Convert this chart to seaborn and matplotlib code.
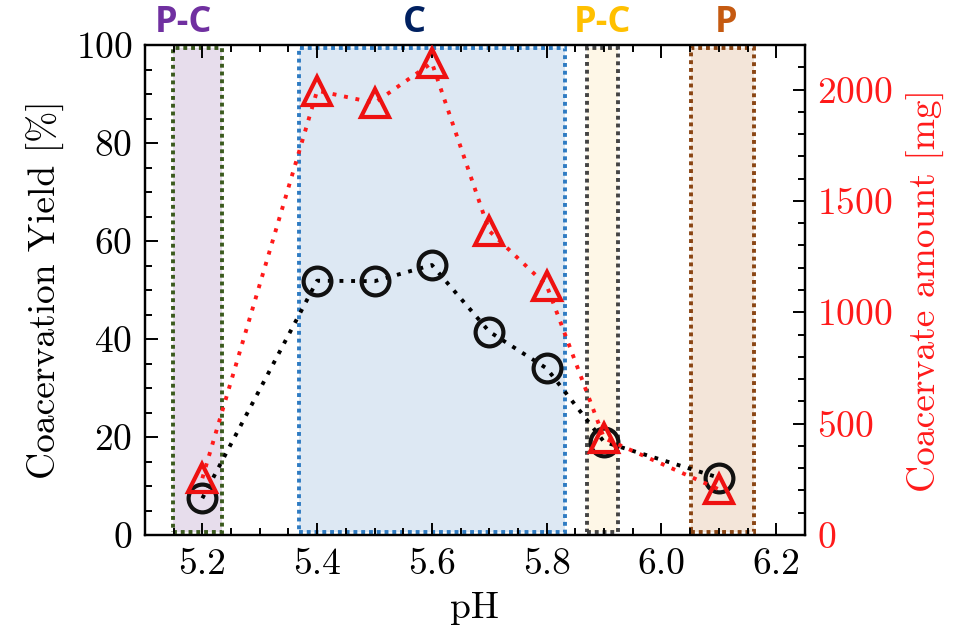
"""
pH scan: coacervation yield and coacervate amount
"""

import numpy as np
import pandas as pd
import matplotlib
matplotlib.use("Agg")
import matplotlib.pyplot as plt
from matplotlib.ticker import MultipleLocator
import seaborn as sns

# data
ph = [5.2, 5.4, 5.5, 5.6, 5.7, 5.8, 5.9, 6.1]
yield_pct = [7.5, 51.9, 51.8, 55.1, 41.5, 34.0, 19.0, 11.7]
amount_mg = [255, 1995, 1940, 2120, 1365, 1120, 435, 205]

# phase regions (pH bounds) and their labels
region_bounds = [(5.148, 5.234), (5.369, 5.832), (5.871, 5.924), (6.051, 6.161)]
region_labels = ["P-C", "C", "P-C", "P"]
region_fill = ["#e7ddec", "#dde8f3", "#fef7e7", "#f3e5d9"]
region_edge = ["#3b5a1e", "#2e7bc2", "#444444", "#8a4513"]
label_colors = ["#7030a0", "#002060", "#ffc000", "#c55a11"]

sns.set_theme(style="ticks")
plt.rcParams["font.family"] = ["cmr10", "DejaVu Serif"]
plt.rcParams["mathtext.fontset"] = "cm"
plt.rcParams["axes.formatter.use_mathtext"] = True
plt.rcParams["axes.unicode_minus"] = False
# seaborn's theme uses dark grey text; the original is plain black
plt.rcParams["text.color"] = "black"
plt.rcParams["axes.labelcolor"] = "black"
plt.rcParams["xtick.color"] = "black"
plt.rcParams["ytick.color"] = "black"

df = pd.DataFrame({"pH": ph, "yield": yield_pct, "amount": amount_mg})

fig = plt.figure(figsize=(9.6, 6.27), dpi=100)
ax = fig.add_axes([0.151, 0.1467, 0.6875, 0.7815])
ax2 = ax.twinx()

# shaded phase regions
for (x0, x1), fc, ec in zip(region_bounds, region_fill, region_edge):
    ax.axvspan(x0, x1, ymin=0.006, ymax=0.993, facecolor=fc, edgecolor=ec,
               linestyle=(0, (1, 1)), linewidth=2.8, zorder=0)

dots = (0, (1, 2.0))
sns.lineplot(data=df, x="pH", y="yield", ax=ax, color="black", linestyle=dots,
             linewidth=2.8, marker="o", markersize=20, markerfacecolor="none",
             markeredgecolor="#111111", markeredgewidth=3.0, zorder=3)
sns.lineplot(data=df, x="pH", y="amount", ax=ax2, color="#ff1a1a", linestyle=dots,
             linewidth=2.8, marker="^", markersize=20, markerfacecolor="none",
             markeredgecolor="#ee1111", markeredgewidth=3.0, zorder=3)

ax.set_xlim(5.1, 6.25)
ax.set_ylim(0, 100)
ax2.set_ylim(0, 2200)

ax.xaxis.set_major_locator(MultipleLocator(0.2))
ax.xaxis.set_minor_locator(MultipleLocator(0.05))
ax.yaxis.set_major_locator(MultipleLocator(20))
ax.yaxis.set_minor_locator(MultipleLocator(5))
ax2.yaxis.set_major_locator(MultipleLocator(500))
ax2.yaxis.set_minor_locator(MultipleLocator(100))
ax.xaxis.set_major_formatter(plt.FuncFormatter(lambda v, p: f"{v:.1f}"))

fs = 27
ax.tick_params(axis="both", which="both", direction="in", top=True, right=False,
               labelsize=fs, width=1.4, color="black", labelcolor="black")
ax.tick_params(which="major", length=9)
ax.tick_params(which="minor", length=5)
ax.tick_params(axis="y", pad=9)
ax.tick_params(axis="x", pad=9)
ax2.tick_params(axis="y", which="both", direction="in", labelsize=fs,
                labelcolor="#ff1a1a", width=1.4, color="black", pad=9)
ax2.tick_params(which="major", length=9)
ax2.tick_params(which="minor", length=5)

for a in (ax, ax2):
    for s in a.spines.values():
        s.set_linewidth(1.6)
        s.set_color("black")

ax.set_xlabel("pH", fontsize=fs, labelpad=8, color="black")
ax.set_ylabel("Coacervation Yield [%]", fontsize=fs, labelpad=8, color="black")
ax2.set_ylabel("Coacervate amount [mg]", fontsize=fs, color="#ff1a1a", labelpad=10)

# phase labels above the plot
label_x = [183, 414, 602, 726]
for txt, px, c in zip(region_labels, label_x, label_colors):
    fig.text(px / 960, 1 - 23 / 627, txt, color=c, fontsize=26, fontweight="bold",
             family="Open Sans", ha="center", va="center")

fig.savefig("out.png", dpi=100)
